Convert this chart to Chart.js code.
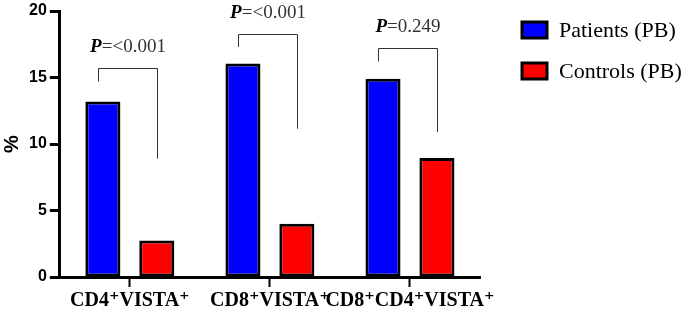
<!DOCTYPE html>
<html>
<head>
<meta charset="utf-8">
<script src="https://cdn.jsdelivr.net/npm/chart.js@4.4.0/dist/chart.umd.min.js"></script>
<style>
  html, body { margin: 0; padding: 0; background: #fff; }
  #wrap { width: 685px; height: 315px; }
</style>
</head>
<body>
<div id="wrap"><canvas id="vista" width="685" height="315"></canvas></div>
<script>
const categories = ['CD4\u207AVISTA\u207A', 'CD8\u207AVISTA\u207A', 'CD8\u207ACD4\u207AVISTA\u207A']
const patients = [13.2, 16.05, 14.9]
const controls = [2.75, 4.0, 8.95]
const yTicks = [0, 5, 10, 15, 20]

// significance brackets (values in %)
const pLabels = ['<0.001', '<0.001', '0.249']
const bracketTop = [15.75, 18.3, 17.25]
const bracketLeftEnd = [14.7, 17.3, 16.2]
const bracketRightEnd = [8.9, 11.15, 10.9]

const serif = '"Liberation Serif", "Times New Roman", "DejaVu Serif", serif'
const ctx = document.getElementById('vista').getContext('2d')

// P-value brackets above each pair
const brackets = {
  id: 'brackets',
  afterDatasetsDraw(chart) {
    const { ctx, scales: { y } } = chart
    const blue = chart.getDatasetMeta(0).data
    const red = chart.getDatasetMeta(1).data
    const boldFont = 'italic bold 19px ' + serif
    const restFont = '19px ' + serif
    ctx.save()
    ctx.strokeStyle = '#333'
    ctx.lineWidth = 1
    pLabels.forEach((p, i) => {
      const x1 = Math.round(blue[i].x) - 4.5
      const x2 = Math.round(red[i].x) + 0.5
      const top = Math.round(y.getPixelForValue(bracketTop[i])) + 0.5
      ctx.beginPath()
      ctx.moveTo(x1, y.getPixelForValue(bracketLeftEnd[i]))
      ctx.lineTo(x1, top)
      ctx.lineTo(x2, top)
      ctx.lineTo(x2, y.getPixelForValue(bracketRightEnd[i]))
      ctx.stroke()

      const rest = '=' + p
      ctx.font = boldFont
      const wP = ctx.measureText('P').width
      ctx.font = restFont
      const wR = ctx.measureText(rest).width
      const tx = (x1 + x2) / 2 - (wP + wR) / 2
      const ty = top - 21
      ctx.textBaseline = 'middle'
      ctx.textAlign = 'left'
      ctx.font = boldFont
      ctx.fillStyle = '#000'
      ctx.fillText('P', tx, ty)
      ctx.font = restFont
      ctx.fillStyle = '#333'
      ctx.fillText(rest, tx + wP, ty)
    })
    ctx.restore()
  },
}

// legend on the right, boxes with thick black border
const sideLegend = {
  id: 'sideLegend',
  afterDatasetsDraw(chart) {
    const { ctx, chartArea } = chart
    ctx.save()
    chart.data.datasets.forEach((ds, i) => {
      const bx = chartArea.right + 42
      const cy = chartArea.top + 19 + i * 41
      ctx.fillStyle = ds.backgroundColor
      ctx.fillRect(bx, cy - 8, 25, 16)
      ctx.lineWidth = 3
      ctx.strokeStyle = '#000'
      ctx.strokeRect(bx, cy - 8, 25, 16)
      ctx.font = '22px ' + serif
      ctx.textBaseline = 'middle'
      ctx.textAlign = 'left'
      ctx.fillStyle = '#000'
      ctx.fillText(ds.label, bx + 37, cy + 1)
    })
    ctx.restore()
  },
}

const vistaChart = new Chart(ctx, {
  type: 'bar',
  data: {
    labels: categories,
    datasets: [
      {
        label: 'Patients (PB)',
        data: patients,
        backgroundColor: '#0000ff',
        borderColor: '#000',
        borderWidth: 3,
        borderSkipped: false,
      },
      {
        label: 'Controls (PB)',
        data: controls,
        backgroundColor: '#ff0000',
        borderColor: '#000',
        borderWidth: 3,
        borderSkipped: false,
      },
    ],
  },
  options: {
    responsive: false,
    animation: false,
    categoryPercentage: 0.77,
    barPercentage: 0.65,
    layout: { padding: { top: 0, right: 205, left: 0, bottom: 0 } },
    plugins: {
      legend: { display: false },
      tooltip: { enabled: false },
    },
    scales: {
      x: {
        grid: {
          display: true,
          offset: false,
          drawOnChartArea: false,
          drawTicks: true,
          tickLength: 10,
          tickWidth: 2,
          tickColor: '#000',
        },
        border: { display: true, color: '#000', width: 3 },
        ticks: {
          color: '#000',
          padding: 2,
          autoSkip: false,
          maxRotation: 0,
          minRotation: 0,
          font: { family: serif, size: 20, weight: 'bold' },
        },
      },
      y: {
        min: 0,
        max: 20,
        afterBuildTicks: scale => {
          scale.ticks = yTicks.map(v => ({ value: v }))
        },
        grid: {
          display: true,
          drawOnChartArea: false,
          drawTicks: true,
          tickLength: 10,
          tickWidth: 3,
          tickColor: '#000',
        },
        border: { display: true, color: '#000', width: 3 },
        ticks: {
          color: '#000',
          padding: 3,
          font: { family: '"Liberation Sans", Arial, sans-serif', size: 16, weight: 'bold', lineHeight: 1 },
        },
        title: {
          display: true,
          text: '%',
          color: '#000',
          padding: { top: 0, bottom: 2 },
          font: { family: '"Liberation Sans", Arial, sans-serif', size: 20, weight: 'bold' },
        },
      },
    },
  },
  plugins: [brackets, sideLegend],
})
</script>
</body>
</html>
